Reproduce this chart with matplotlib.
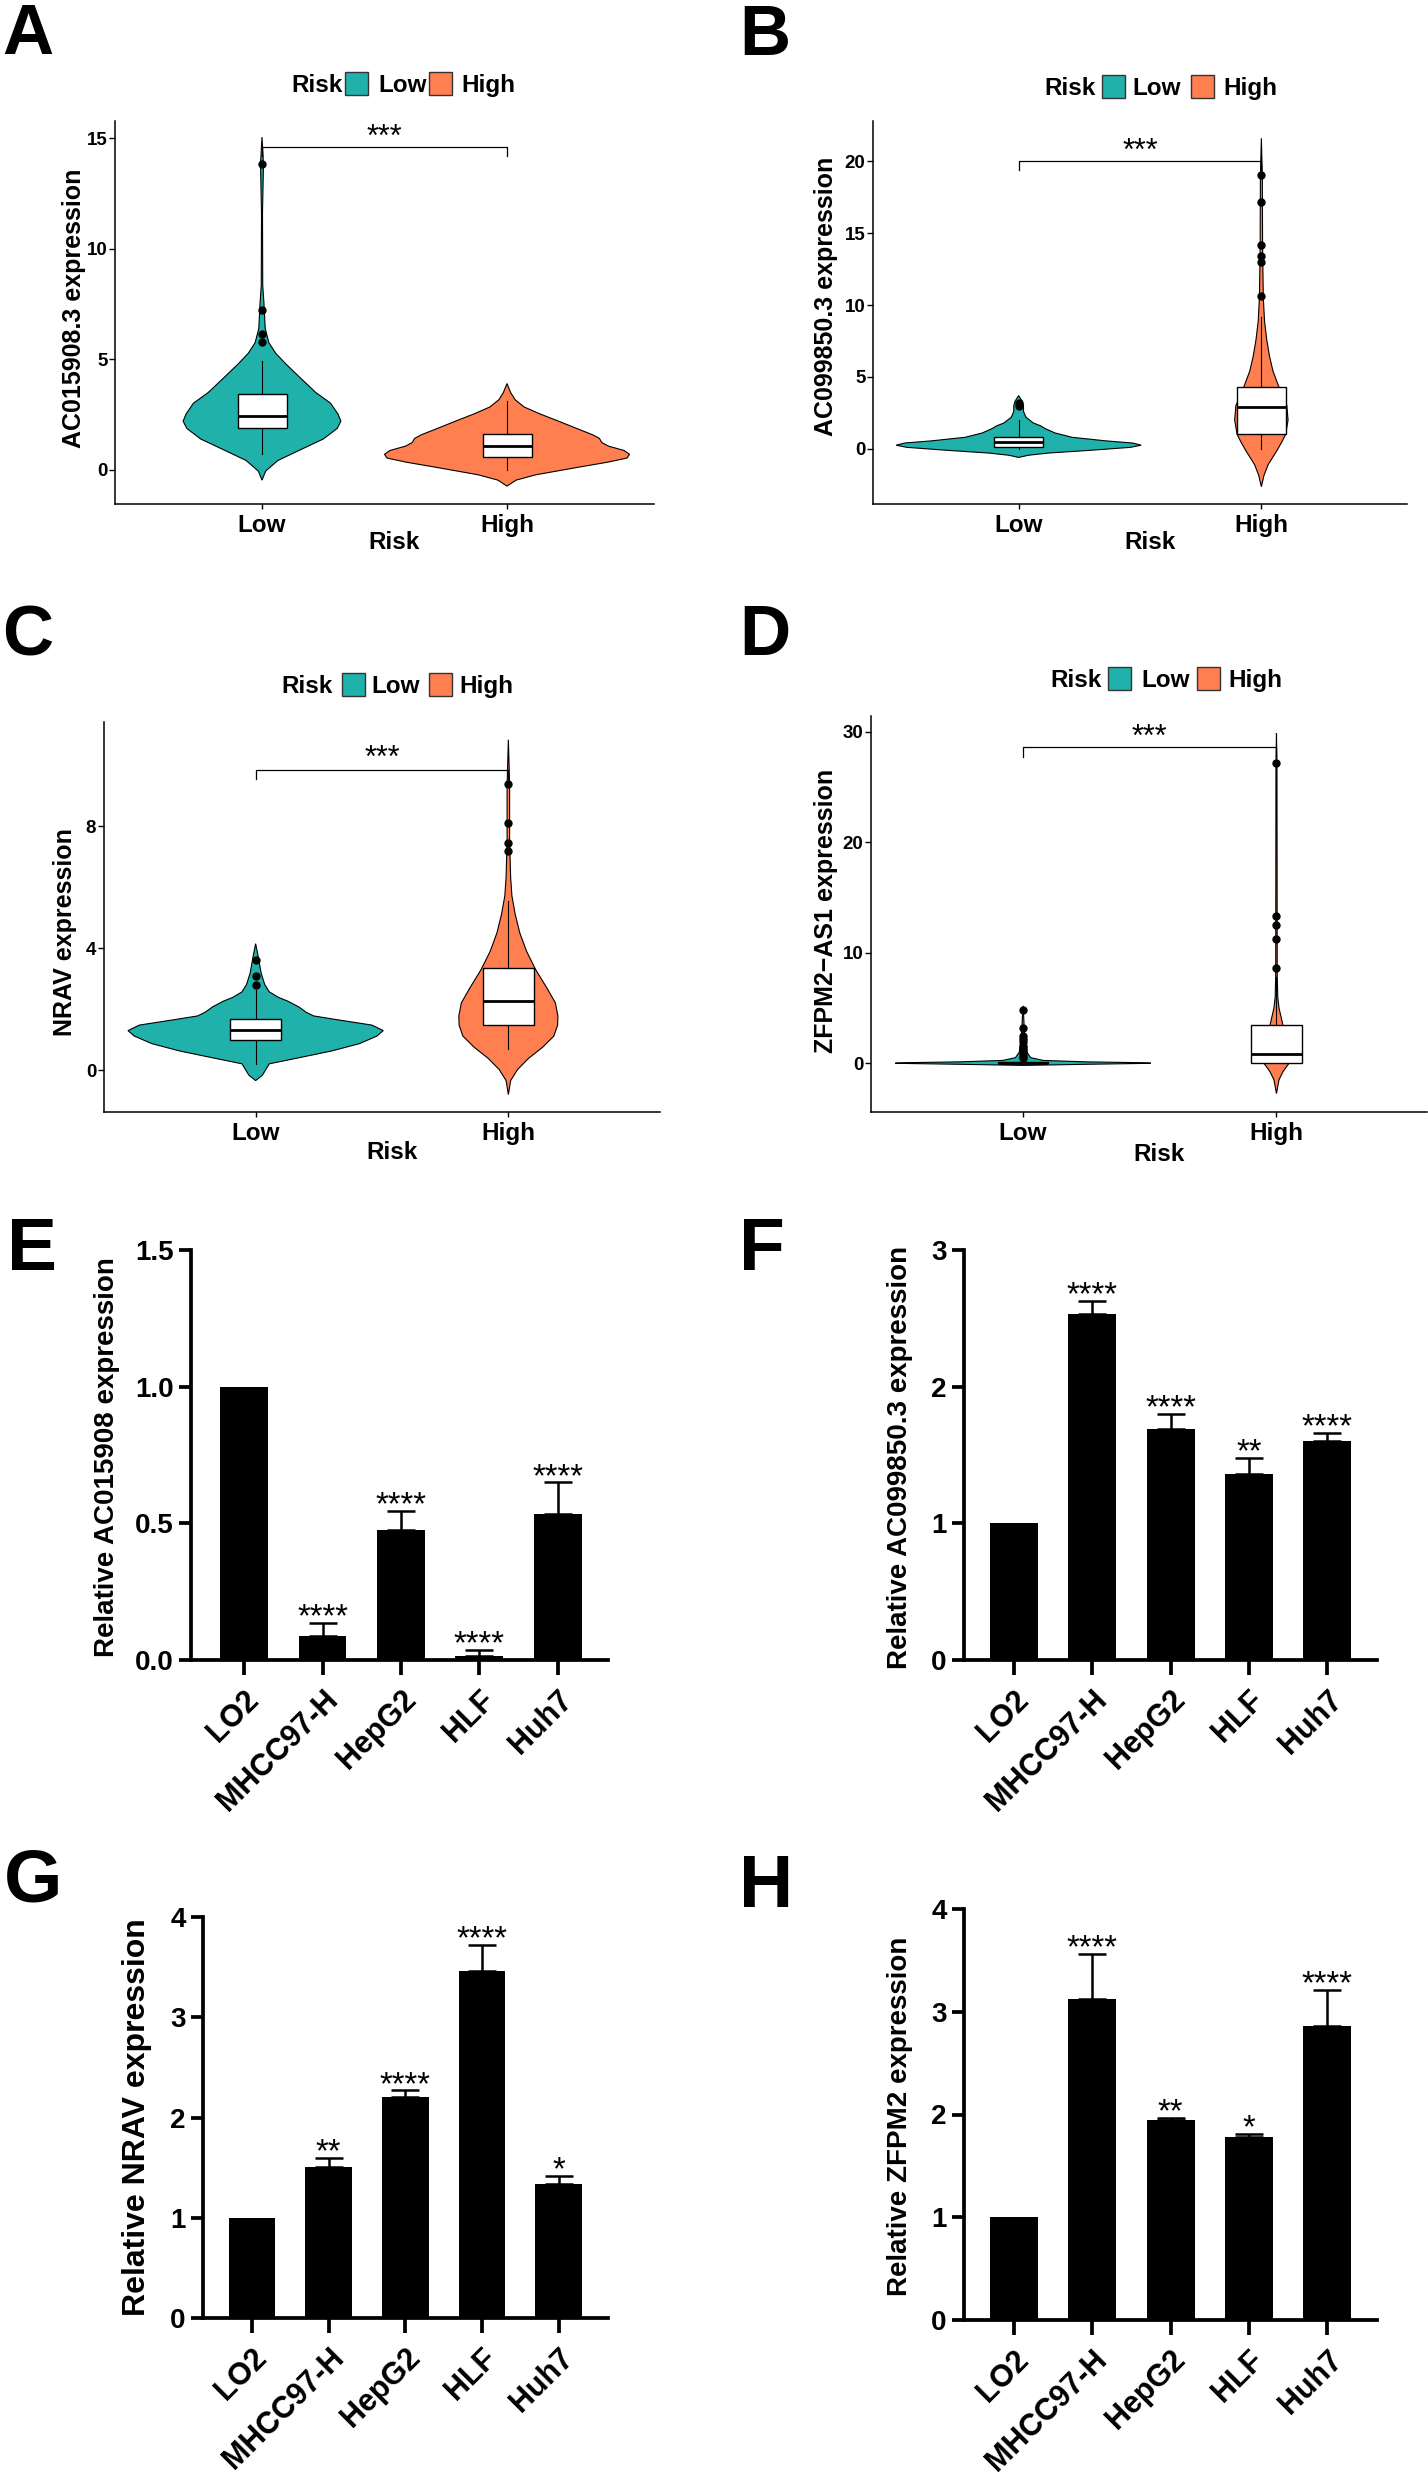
import numpy as np
import matplotlib
matplotlib.use('Agg')
import matplotlib.pyplot as plt
from matplotlib.patches import Rectangle
from matplotlib.transforms import ScaledTranslation

W, H = 1428, 2480
TEAL = '#20B2AA'
CORAL = '#FF7F50'
ARIAL = ['Liberation Sans', 'DejaVu Sans']

# ---------------- violin panels (A-D) ----------------
# violin outlines: y value and half width (x units)
A_LOW_Y = [-0.47, -0.06, 0.42, 0.91, 1.39, 1.87, 2.20, 2.52, 3.01, 3.49, 4.14, 4.78, 5.27, 5.75, 6.40, 7.53, 8.34, 11.6, 13.84, 15.05]
A_LOW_W = [0, 0.015, 0.065, 0.158, 0.25, 0.307, 0.322, 0.31, 0.28, 0.22, 0.158, 0.098, 0.056, 0.028, 0.013, 0.008, 0.003, 0.002, 0.006, 0]
A_HIGH_Y = [-0.74, -0.47, -0.23, 0.10, 0.34, 0.53, 0.70, 0.87, 1.07, 1.23, 1.42, 1.58, 1.87, 2.20, 2.52, 2.84, 3.17, 3.49, 3.90]
A_HIGH_W = [0, 0.037, 0.117, 0.284, 0.41, 0.49, 0.50, 0.478, 0.414, 0.387, 0.377, 0.35, 0.284, 0.21, 0.136, 0.07, 0.033, 0.015, 0]
A_LOW_BOX = [0.71, 1.875, 2.44, 3.41, 4.91]
A_HIGH_BOX = [0.0, 0.58, 1.07, 1.63, 3.09]
A_LOW_OUT = [5.79, 6.16, 7.24, 13.84]
A_HIGH_OUT = []

B_LOW_Y = [-0.6, -0.45, -0.3, -0.1, 0.1, 0.25, 0.4, 0.55, 0.8, 1.1, 1.4, 1.6, 1.8, 2.2, 2.6, 3.0, 3.3, 3.7]
B_LOW_W = [0, 0.04, 0.12, 0.30, 0.46, 0.505, 0.47, 0.36, 0.22, 0.15, 0.11, 0.09, 0.06, 0.03, 0.02, 0.02, 0.015, 0]
B_HIGH_Y = [-2.64, -1.84, -1.1, -0.1, 0.5, 1.0, 2.0, 3.0, 4.4, 5.4, 6.4, 7.6, 8.9, 10.5, 14.0, 19.0, 21.6]
B_HIGH_W = [0, 0.011, 0.028, 0.065, 0.085, 0.1, 0.11, 0.105, 0.07, 0.048, 0.034, 0.022, 0.013, 0.008, 0.005, 0.004, 0]
B_LOW_BOX = [0.0, 0.15, 0.47, 0.85, 2.02]
B_HIGH_BOX = [0.0, 1.02, 2.89, 4.33, 9.2]
B_LOW_OUT = [3.0, 3.19]
B_HIGH_OUT = [10.66, 12.98, 13.4, 14.15, 17.14, 19.03]

C_LOW_Y = [-0.34, -0.16, 0.21, 0.39, 0.63, 0.87, 1.12, 1.30, 1.48, 1.66, 1.78, 1.90, 2.08, 2.27, 2.39, 2.57, 2.81, 3.18, 3.54, 3.78, 4.15]
C_LOW_W = [0, 0.027, 0.054, 0.16, 0.30, 0.41, 0.48, 0.505, 0.46, 0.32, 0.23, 0.2, 0.17, 0.126, 0.09, 0.054, 0.036, 0.022, 0.014, 0.009, 0]
C_HIGH_Y = [-0.8, -0.34, 0.02, 0.39, 0.75, 1.12, 1.48, 1.78, 2.21, 2.69, 3.30, 3.90, 4.51, 5.12, 5.72, 6.33, 7.54, 9.36, 10.84]
C_HIGH_W = [0, 0.009, 0.036, 0.08, 0.135, 0.18, 0.195, 0.196, 0.186, 0.153, 0.108, 0.072, 0.045, 0.027, 0.014, 0.009, 0.005, 0.005, 0]
C_LOW_BOX = [0.2, 0.99, 1.32, 1.68, 2.63]
C_HIGH_BOX = [0.69, 1.47, 2.27, 3.35, 5.54]
C_LOW_OUT = [2.81, 3.08, 3.6]
C_HIGH_OUT = [7.2, 7.45, 8.11, 9.38]

D_LOW_Y = [-0.2, -0.1, -0.03, 0.0, 0.05, 0.12, 0.25, 0.5, 1.0, 2.0, 3.0, 4.0, 5.2]
D_LOW_W = [0, 0.25, 0.45, 0.504, 0.45, 0.25, 0.08, 0.03, 0.015, 0.008, 0.005, 0.003, 0]
D_HIGH_Y = [-2.75, -1.5, -0.8, -0.3, 0.0, 0.5, 1.0, 2.0, 3.0, 4.0, 5.0, 6.0, 8.0, 27.0, 29.9]
D_HIGH_W = [0, 0.01, 0.025, 0.04, 0.05, 0.06, 0.055, 0.04, 0.03, 0.02, 0.01, 0.005, 0.003, 0.002, 0]
D_LOW_BOX = [0.0, 0.0, 0.05, 0.15, 0.35]
D_HIGH_BOX = [0.0, 0.05, 0.8, 3.45, 7.8]
D_LOW_OUT = [0.45, 0.6, 0.8, 1.0, 1.2, 1.4, 1.6, 1.9, 2.2, 2.5, 3.2, 4.8]
D_HIGH_OUT = [8.65, 11.26, 12.5, 13.3, 27.15]

# ---------------- bar panels (E-H) ----------------
CELL_LINES = ['LO2', 'MHCC97-H', 'HepG2', 'HLF', 'Huh7']
E_VALS = [1.0, 0.088, 0.474, 0.015, 0.535]
E_ERR = [0, 0.047, 0.071, 0.021, 0.115]
E_STARS = ['', '****', '****', '****', '****']
F_VALS = [1.0, 2.53, 1.69, 1.36, 1.60]
F_ERR = [0, 0.10, 0.11, 0.12, 0.06]
F_STARS = ['', '****', '****', '**', '****']
G_VALS = [1.0, 1.51, 2.20, 3.46, 1.34]
G_ERR = [0, 0.09, 0.07, 0.26, 0.08]
G_STARS = ['', '**', '****', '****', '*']
H_VALS = [1.0, 3.12, 1.95, 1.78, 2.86]
H_ERR = [0, 0.44, 0.02, 0.03, 0.35]
H_STARS = ['', '****', '**', '*', '****']

fig = plt.figure(figsize=(W / 100, H / 100), dpi=100)


def fx(x):
    return x / W


def fy(y):
    return 1 - y / H


def add_ax(left, right, top, bottom):
    return fig.add_axes([fx(left), fy(bottom), (right - left) / W, (bottom - top) / H])


def draw_violin(ax, pos, ys, ws, color):
    ys = np.asarray(ys)
    ws = np.asarray(ws)
    x = np.concatenate([pos - ws, (pos + ws)[::-1]])
    y = np.concatenate([ys, ys[::-1]])
    ax.fill(x, y, facecolor=color, edgecolor='black', lw=0.8, zorder=2)


def draw_box(ax, pos, box, out):
    stats = [dict(whislo=box[0], q1=box[1], med=box[2], q3=box[3], whishi=box[4], fliers=out)]
    ax.bxp(stats, positions=[pos], widths=0.2, patch_artist=True, showcaps=False,
           boxprops=dict(facecolor='white', edgecolor='black', lw=1.0),
           medianprops=dict(color='black', lw=2.0),
           whiskerprops=dict(color='black', lw=0.8),
           flierprops=dict(marker='o', mfc='black', mec='black', ms=5),
           manage_ticks=False, zorder=3)


def violin_panel(rect, xlim, ylim, yticks, low, high, bracket, star_y, ylabel, ylab_pos, xlab_pos):
    ax = add_ax(*rect)
    draw_violin(ax, 1, low[0], low[1], TEAL)
    draw_violin(ax, 2, high[0], high[1], CORAL)
    draw_box(ax, 1, low[2], low[3])
    draw_box(ax, 2, high[2], high[3])
    yb, tip = bracket
    ax.plot([1, 1, 2, 2], [tip, yb, yb, tip], color='black', lw=0.9, zorder=4)
    ax.annotate('***', (1.5, star_y), xytext=(0, -12.5), textcoords='offset points',
                ha='center', va='baseline', fontsize=22, family=ARIAL)
    ax.set_xlim(*xlim)
    ax.set_ylim(*ylim)
    ax.set_yticks(yticks)
    ax.set_yticklabels([str(t) for t in yticks], fontsize=13.5, fontweight='bold', family=ARIAL)
    ax.set_xticks([1, 2])
    ax.set_xticklabels(['Low', 'High'], fontsize=17.5, fontweight='bold', family=ARIAL)
    for lab in ax.get_xticklabels():
        lab.set_transform(lab.get_transform() + ScaledTranslation(0.12, 0, fig.dpi_scale_trans))
    ax.tick_params(axis='y', length=4, width=1.0, pad=1.5)
    ax.tick_params(axis='x', length=3.3, width=1.0, pad=4)
    for s in ('top', 'right'):
        ax.spines[s].set_visible(False)
    for s in ('left', 'bottom'):
        ax.spines[s].set_linewidth(1.1)
    fig.text(fx(ylab_pos[0]), fy(ylab_pos[1]), ylabel, rotation=90, ha='center', va='center',
             fontsize=18, fontweight='bold', family=ARIAL)
    fig.text(fx(xlab_pos[0]), fy(xlab_pos[1] + 8.7), 'Risk', ha='center', va='baseline',
             fontsize=17.5, fontweight='bold', family=ARIAL)
    return ax


def risk_legend(y, xr, xs1, xl, xs2, xh):
    kw = dict(fontsize=17.5, fontweight='bold', family=ARIAL, va='baseline', ha='left')
    fig.text(fx(xr), fy(y + 8.7), 'Risk', **kw)
    fig.text(fx(xl), fy(y + 8.7), 'Low', **kw)
    fig.text(fx(xh), fy(y + 8.7), 'High', **kw)
    for xs, col in ((xs1, TEAL), (xs2, CORAL)):
        fig.add_artist(Rectangle((fx(xs), fy(y + 11.5)), 23 / W, 23 / H, transform=fig.transFigure,
                                 facecolor=col, edgecolor='#333333', lw=1))


def panel_letter(x, y, s, size):
    fig.text(fx(x), fy(y), s, fontsize=size, fontweight='bold', family=ARIAL, ha='left', va='baseline')


violin_panel((115, 654, 121, 504), (0.4, 2.6), (-1.55, 15.78), [0, 5, 10, 15],
             (A_LOW_Y, A_LOW_W, A_LOW_BOX, A_LOW_OUT), (A_HIGH_Y, A_HIGH_W, A_HIGH_BOX, A_HIGH_OUT),
             (14.6, 14.2), 15.42, 'AC015908.3 expression', (74, 308), (394, 540))
violin_panel((873, 1407, 121, 504), (0.4, 2.6), (-3.84, 22.8), [0, 5, 10, 15, 20],
             (B_LOW_Y, B_LOW_W, B_LOW_BOX, B_LOW_OUT), (B_HIGH_Y, B_HIGH_W, B_HIGH_BOX, B_HIGH_OUT),
             (20.0, 19.38), 21.32, 'AC099850.3 expression', (826, 296), (1150, 540))
violin_panel((104, 660, 722, 1112), (0.4, 2.6), (-1.37, 11.42), [0, 4, 8],
             (C_LOW_Y, C_LOW_W, C_LOW_BOX, C_LOW_OUT), (C_HIGH_Y, C_HIGH_W, C_HIGH_BOX, C_HIGH_OUT),
             (9.83, 9.54), 10.51, 'NRAV expression', (65, 932), (392, 1150))
violin_panel((871, 1427, 716, 1112), (0.4, 2.594), (-4.42, 31.44), [0, 10, 20, 30],
             (D_LOW_Y, D_LOW_W, D_LOW_BOX, D_LOW_OUT), (D_HIGH_Y, D_HIGH_W, D_HIGH_BOX, D_HIGH_OUT),
             (28.6, 27.76), 30.34, 'ZFPM2\u2212AS1 expression', (826, 911), (1159, 1152))

risk_legend(83, 291, 345, 378, 429, 461)
risk_legend(86, 1044, 1102, 1132, 1191, 1223)
risk_legend(684, 281, 342, 371, 429, 459)
risk_legend(678, 1050, 1108, 1141, 1197, 1228)


def bar_panel(rect, xlim, vals, err, stars, yticks, ylabels, ylabel, ylab_pos, ylab_fs):
    ax = add_ax(*rect)
    x = np.arange(len(vals))
    ax.bar(x, vals, width=0.61, color='black', zorder=2)
    err = np.asarray(err)
    m = err > 0
    ax.errorbar(x[m], np.asarray(vals)[m], yerr=[np.zeros(m.sum()), err[m]], fmt='none',
                ecolor='black', elinewidth=1.8, capsize=9.8, capthick=1.8, zorder=1)
    for xi, v, e, s in zip(x, vals, err, stars):
        if s:
            ax.annotate(s, (xi, v + e), xytext=(0, -2.5), textcoords='offset points',
                        ha='center', va='baseline', fontsize=23.5, family=ARIAL)
    ax.set_xlim(*xlim)
    ax.set_ylim(yticks[0], yticks[-1])
    ax.set_yticks(yticks)
    ax.set_yticklabels(ylabels, fontsize=20, fontweight='bold', family=ARIAL)
    ax.set_xticks(x)
    ax.set_xticklabels(CELL_LINES, rotation=45, ha='right', va='top', rotation_mode='anchor',
                       fontsize=22, fontweight='bold', family=ARIAL)
    for lab in ax.get_xticklabels():
        lab.set_transform(lab.get_transform() + ScaledTranslation(0.06, 0, fig.dpi_scale_trans))
    ax.tick_params(axis='y', length=8.8, width=2.7, pad=3.6)
    ax.tick_params(axis='x', length=10.9, width=2.7, pad=7)
    for s in ('top', 'right'):
        ax.spines[s].set_visible(False)
    for s in ('left', 'bottom'):
        ax.spines[s].set_linewidth(2.7)
    fig.text(fx(ylab_pos[0]), fy(ylab_pos[1]), ylabel, rotation=90, ha='center', va='center',
             fontsize=ylab_fs, fontweight='bold', family=ARIAL)
    return ax


bar_panel((191, 608, 1250, 1660), (-0.677, 4.64), E_VALS, E_ERR, E_STARS,
          [0, 0.5, 1.0, 1.5], ['0.0', '0.5', '1.0', '1.5'], 'Relative AC015908 expression', (107, 1457), 20)
bar_panel((964, 1377, 1250, 1660), (-0.637, 4.633), F_VALS, F_ERR, F_STARS,
          [0, 1, 2, 3], ['0', '1', '2', '3'], 'Relative AC099850.3 expression', (900, 1457), 20)
bar_panel((203, 608, 1917, 2318), (-0.639, 4.645), G_VALS, G_ERR, G_STARS,
          [0, 1, 2, 3, 4], ['0', '1', '2', '3', '4'], 'Relative NRAV expression', (137, 2117), 23)
bar_panel((964, 1377, 1909, 2320), (-0.637, 4.633), H_VALS, H_ERR, H_STARS,
          [0, 1, 2, 3, 4], ['0', '1', '2', '3', '4'], 'Relative ZFPM2 expression', (900, 2116), 20)

panel_letter(2, 54, 'A', 51)
panel_letter(739, 55, 'B', 51)
panel_letter(2, 655, 'C', 51)
panel_letter(739, 655, 'D', 51)
panel_letter(7, 1270, 'E', 54)
panel_letter(739, 1270, 'F', 54)
panel_letter(4, 1901, 'G', 54)
panel_letter(739, 1907, 'H', 54)

fig.savefig('out.png', dpi=100, facecolor='white')
